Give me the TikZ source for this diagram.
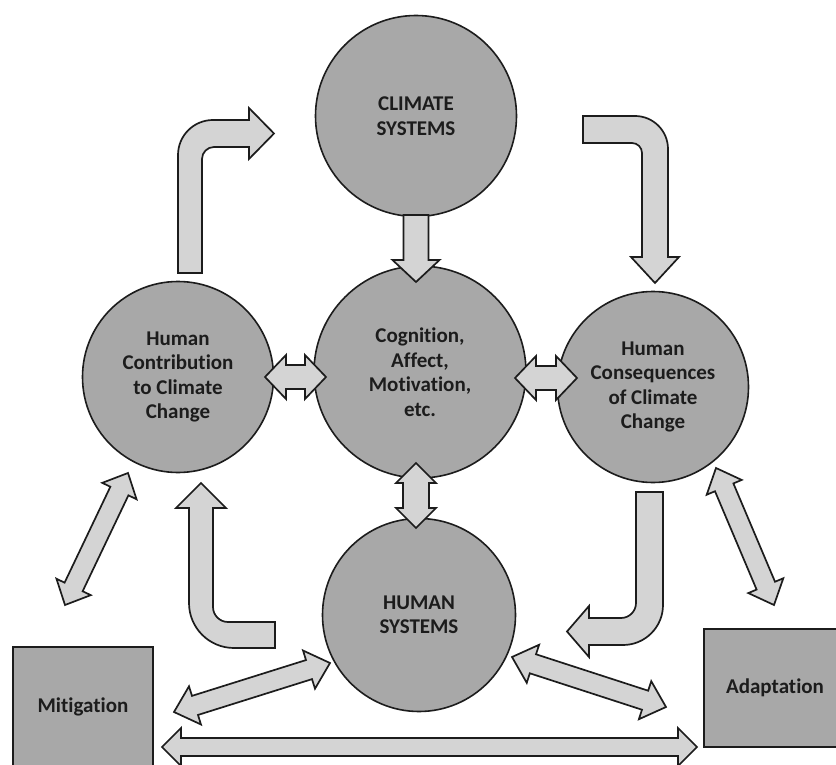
\documentclass[tikz,border=0pt]{standalone}
\usepackage{fontspec}
\setmainfont{Carlito}[Ligatures=NoCommon]
\usetikzlibrary{calc}
\definecolor{circfill}{RGB}{168,168,168}
\definecolor{arrfill}{RGB}{212,212,212}
\definecolor{ink}{RGB}{28,28,28}
% double block arrow: #1,#2 tips; #3 shaft half width; #4 head half width; #5 head length
\newcommand\dblarr[5]{%
  \path ($(#1)!#5!(#2)$) coordinate (pa) ($(#2)!#5!(#1)$) coordinate (pb);
  \draw[blockarrow] (#1) -- ($(pa)!#4!90:(#2)$) -- ($(pa)!#3!90:(#2)$)
    -- ($(pb)!#3!-90:(#1)$) -- ($(pb)!#4!-90:(#1)$) -- (#2)
    -- ($(pb)!#4!90:(#1)$) -- ($(pb)!#3!90:(#1)$)
    -- ($(pa)!#3!-90:(#2)$) -- ($(pa)!#4!-90:(#2)$) -- cycle;}
% single block arrow: #1 tail centre, #2 tip
\newcommand\sglarr[5]{%
  \path ($(#2)!#5!(#1)$) coordinate (pc);
  \draw[blockarrow] ($(#1)!#3!90:(#2)$) -- ($(pc)!#3!90:(#2)$) -- ($(pc)!#4!90:(#2)$)
    -- (#2) -- ($(pc)!#4!-90:(#2)$) -- ($(pc)!#3!-90:(#2)$) -- ($(#1)!#3!-90:(#2)$) -- cycle;}
\begin{document}
\begin{tikzpicture}[x=1pt,y=-1pt,
  circ/.style={circle, draw=ink, line width=1.6pt, fill=circfill, text=ink,
    font=\fontsize{21}{24.5}\selectfont\bfseries, align=center, inner sep=0pt},
  box/.style={rectangle, draw=ink, line width=1.6pt, fill=circfill, text=ink,
    font=\fontsize{21}{24.5}\selectfont\bfseries, align=center, inner sep=0pt},
  blockarrow/.style={draw=ink, line width=1.7pt, fill=arrfill, line join=miter}]
\useasboundingbox (0,0) rectangle (836,765);
\fill[white] (0,0) rectangle (836,765);

% nodes
\node[circ, minimum size=201pt] (climate) at (416,116) {CLIMATE\\SYSTEMS};
\node[circ, minimum size=212pt] (cognition) at (420,372) {Cognition,\\Affect,\\Motivation,\\etc.};
\node[circ, minimum size=191pt] (contrib) at (178,377) {Human\\Contribution\\to Climate\\Change};
\node[circ, minimum size=191pt] (conseq) at (653,387) {Human\\Consequences\\of Climate\\Change};
\node[circ, minimum size=193pt] (humsys) at (419,615) {HUMAN\\SYSTEMS};
\node[box, minimum width=140pt, minimum height=120pt] (mitig) at (83,707) {Mitigation};
\node[box, minimum width=142pt, minimum height=118pt] (adapt) at (775,688) {Adaptation};

% arrow end points
\coordinate (cs1) at (416,215); \coordinate (cs2) at (416,282);
\coordinate (hc1) at (265,377); \coordinate (hc2) at (326,377);
\coordinate (hq1) at (515,378); \coordinate (hq2) at (577,378);
\coordinate (ch1) at (416,463); \coordinate (ch2) at (416,528);
\coordinate (cm1) at (128,473); \coordinate (cm2) at (65,605);
\coordinate (qa1) at (716,468); \coordinate (qa2) at (774,605);
\coordinate (sm1) at (330,663); \coordinate (sm2) at (174,712);
\coordinate (sa1) at (512,657); \coordinate (sa2) at (666,707);
\coordinate (ma1) at (162,747); \coordinate (ma2) at (697,747);

% straight arrows
\sglarr{cs1}{cs2}{12.5pt}{23.5pt}{22pt}
\dblarr{hc1}{hc2}{12pt}{22pt}{21pt}
\dblarr{hq1}{hq2}{12pt}{22pt}{21pt}
\dblarr{ch1}{ch2}{13pt}{20pt}{20pt}
\dblarr{cm1}{cm2}{10pt}{19pt}{20pt}
\dblarr{qa1}{qa2}{10pt}{19pt}{21pt}
\dblarr{sm1}{sm2}{10pt}{20pt}{22pt}
\dblarr{sa1}{sa2}{10pt}{20pt}{22pt}
\dblarr{ma1}{ma2}{9pt}{19pt}{19pt}

% bent arrows
% contribution -> climate
\draw[blockarrow] (178,273) -- (178,155) arc[start angle=180,end angle=270,radius=35]
  -- (249,120) -- (249,108) -- (274,133.5) -- (249,159) -- (249,147) -- (214,147)
  arc[start angle=270,end angle=180,radius=12] -- (202,273) -- cycle;
% climate -> consequences
\draw[blockarrow] (583,116) -- (635,116) arc[start angle=270,end angle=360,radius=33]
  -- (668,257) -- (679,257) -- (655,283) -- (631,257) -- (642,257) -- (642,153)
  arc[start angle=0,end angle=-90,radius=10] -- (583,143) -- cycle;
% human systems -> contribution
\draw[blockarrow] (201,483) -- (226,508) -- (213,508) -- (213,607)
  arc[start angle=180,end angle=90,radius=15] -- (275,622) -- (275,648) -- (234,648)
  arc[start angle=90,end angle=180,radius=45] -- (189,508) -- (176,508) -- cycle;
% consequences -> human systems
\draw[blockarrow] (636,492) -- (663,492) -- (663,605)
  arc[start angle=0,end angle=90,radius=40] -- (589,645) -- (589,657) -- (567,631.5)
  -- (589,606) -- (589,618) -- (621,618) arc[start angle=90,end angle=0,radius=15] -- cycle;
\end{tikzpicture}
\end{document}
